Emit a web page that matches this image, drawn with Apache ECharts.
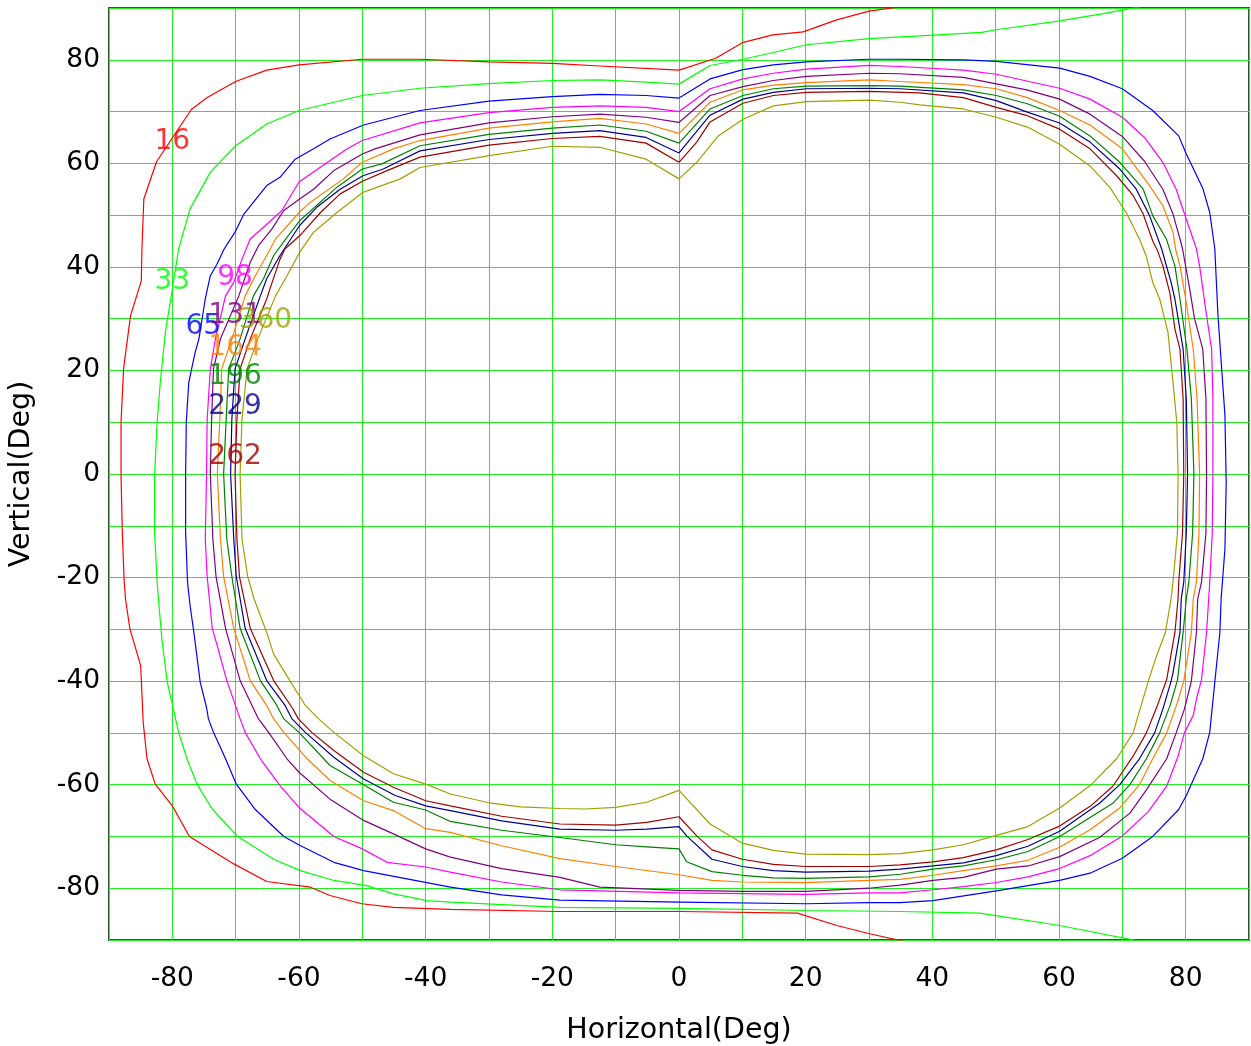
<!DOCTYPE html>
<html><head><meta charset="utf-8">
<script src="https://cdn.jsdelivr.net/npm/echarts@6/dist/echarts.min.js"></script>
<style>html,body{margin:0;padding:0;background:#fff}#c{width:1251px;height:1046px}</style>
</head><body><div id="c"></div>
<script>
// Contour levels
const levels = ['16','33','65','98','131','164','196','229','262','360'];
const colors = ['#ff0000','#00ff00','#0000ff','#ff00ff','#800080','#ff8000','#008000','#000090','#a00000','#a0a000'];

// Contour paths [horizontal deg, vertical deg]
const c16 = [[36,90.4],[30,89.4],[24.9,87.7],[19.6,85.4],[14.8,84.8],[10,83.3],[5.8,80.3],[0,78.0],[-12.5,78.8],[-20,79.3],[-30,79.6],[-40.9,80.1],[-50,80.1],[-60,79.0],[-65.1,78.0],[-70,75.8],[-74.5,72.7],[-77,70.4],[-82.5,60.3],[-84.5,53.1],[-84.8,43.5],[-84.9,37.3],[-86.6,30.6],[-87.7,20.3],[-88.1,10],[-88.1,-0.3],[-87.9,-11.3],[-87.6,-20.9],[-87.4,-24.1],[-86.7,-29.9],[-85.0,-37.0],[-84.6,-48.0],[-84.0,-55.0],[-82.7,-59.9],[-80,-64.1],[-77.3,-70],[-70.3,-75.3],[-65.1,-78.7],[-58.2,-79.8],[-55.1,-81.4],[-50.1,-83.0],[-45.1,-83.7],[-36.1,-84.1],[-18.8,-84.5],[0.2,-84.5],[18.7,-84.8],[24.9,-87.2],[30.1,-88.8],[36,-90.4]];
const c33 = [[73.5,90.4],[67,88.9],[60.1,87.5],[50.1,85.8],[47.8,85.3],[38,84.6],[30,84.1],[20.1,82.9],[14.9,81.4],[10.1,80.1],[4.9,78.9],[0,75.3],[-5.2,75.7],[-12.5,76.1],[-20,76.0],[-30,75.4],[-40.9,74.5],[-50,73.1],[-60,70.2],[-65.1,67.6],[-70,63.4],[-74,58.3],[-77.2,51.2],[-79.0,43.5],[-80,35.7],[-81.1,27.4],[-81.9,17.7],[-82.4,10],[-82.8,-0.3],[-82.8,-11.3],[-82.4,-20.9],[-82.2,-24.1],[-81.6,-32.5],[-80.8,-40.2],[-79.0,-49.9],[-77.7,-55.0],[-76.1,-59.9],[-73.7,-64.7],[-69.8,-69.9],[-64.0,-74.4],[-59.8,-76.6],[-54.5,-78.5],[-49.3,-79.5],[-45.1,-81.1],[-39.8,-82.4],[-36.1,-82.7],[-18.8,-83.7],[0.2,-83.9],[20.1,-84.3],[34.9,-84.5],[47.5,-84.8],[60.1,-87.2],[73,-90.3]];
const c65 = [[0,72.6],[4.9,76.3],[10.1,78.1],[14.9,79.0],[20.1,79.6],[30,80.1],[34.9,80.1],[44.9,80.0],[50.1,79.7],[60.1,78.4],[64.9,76.8],[70,74.4],[74.8,70.2],[78.9,65.3],[80.1,61.8],[82.7,55.2],[83.8,50.5],[84.6,43.5],[85.1,30.6],[86.2,11.3],[86.4,-1.6],[86.2,-14.5],[85.6,-24.1],[85.4,-30.6],[84.6,-40.2],[83.8,-49.9],[82.7,-55.0],[80.1,-62.1],[78.9,-64.8],[74.8,-70.0],[70,-74.2],[64.9,-77.1],[60.1,-78.5],[50.1,-80.5],[40.1,-82.4],[34.9,-82.8],[30,-82.8],[20.1,-83.0],[0.2,-82.7],[-18.8,-82.3],[-28,-81.3],[-36.1,-79.8],[-49.8,-76.6],[-54.5,-75.0],[-59.9,-71.7],[-62.4,-70.0],[-66.9,-64.8],[-69.9,-59.9],[-71.6,-55.0],[-73.5,-49.9],[-74.3,-47.3],[-74.6,-45.1],[-75.6,-40.2],[-76.6,-30.6],[-77.2,-25.4],[-77.6,-20.9],[-77.9,-11.3],[-77.9,-0.3],[-77.8,10],[-77.4,17.7],[-76.4,23.5],[-75.8,26.1],[-74.8,33.8],[-74.0,38.3],[-73.0,40.4],[-71.8,43.5],[-70.1,46.7],[-68.7,50.2],[-65.1,55.7],[-63.0,57.3],[-60.6,60.8],[-57.7,62.8],[-55.1,64.7],[-49.8,67.4],[-40.9,70.2],[-30,72.0],[-20,72.9],[-12.5,73.3],[-5.2,73.1],[0,72.6]];
const c98 = [[0,70.0],[4.9,74.4],[10.1,76.3],[14.9,77.4],[20.1,78.2],[30,78.9],[34.9,78.7],[44.9,78.0],[50.1,77.2],[60.1,74.5],[64.9,72.4],[70,68.9],[73.5,65.0],[76.4,60.2],[78.5,55.0],[80.1,49.2],[81.7,43.5],[82.2,40.2],[83.3,30.6],[84.1,24.1],[84.3,14.5],[84.3,0],[84.2,-11.4],[83.8,-20.9],[83.3,-30.6],[82.5,-39.7],[81.7,-43.5],[81.2,-46.6],[79.8,-50],[78.8,-54.5],[77,-60.3],[74.1,-65.2],[70,-69.9],[65.1,-73.6],[60.1,-76.2],[55.1,-77.8],[50.1,-78.9],[44.9,-79.7],[40.1,-80.3],[34.9,-80.9],[30,-80.9],[20,-81.2],[0,-80.9],[-18.8,-80.3],[-28,-78.8],[-36.1,-76.9],[-40,-75.9],[-46.1,-75.0],[-50,-72.4],[-54.5,-70.0],[-60,-64.4],[-63,-60.2],[-66.1,-55.0],[-68.5,-49.9],[-69.3,-47.3],[-71.4,-39.9],[-72.9,-33.2],[-73.7,-29.8],[-74.5,-19.8],[-74.8,-12.6],[-74.6,0],[-74.5,10.6],[-74.0,20.3],[-73.2,26.1],[-71.6,34.4],[-70.3,37.0],[-69.0,41.5],[-67.7,45.4],[-65.3,48.0],[-62.7,50.9],[-60,56.4],[-52.4,62.8],[-50,64.4],[-40.9,67.8],[-30,69.8],[-20,70.8],[-12.5,71.1],[-5.2,70.8],[0,70.0]];
const c131 = [[0,67.9],[4.9,73.1],[10.1,74.8],[14.9,76.0],[20.1,76.8],[30,77.4],[34.9,77.3],[44.9,76.6],[54.9,74.2],[60.1,72.4],[64.9,69.5],[70,65.2],[73.5,60.4],[76.4,55.0],[78.0,50.2],[79.1,45.4],[79.5,43.5],[80.6,36],[81.4,30],[82.7,24.1],[83.2,14.5],[83.3,0],[83.2,-11.4],[82.5,-20.9],[81.9,-24.1],[81.7,-30.6],[80.9,-40.0],[79.8,-45.4],[78.5,-50],[77.0,-55],[73.8,-61],[71.2,-65.5],[66.4,-70.2],[60.1,-73.9],[55.1,-75.7],[50.1,-76.3],[44.9,-77.9],[40.1,-78.5],[34.9,-79.4],[30,-80.0],[20,-80.6],[10,-80.6],[0,-80.4],[-12.5,-79.8],[-18.8,-77.9],[-28,-76.2],[-36.1,-74.0],[-40,-72.4],[-45.1,-69.5],[-49.8,-66.9],[-55.1,-62.8],[-60,-57.6],[-61.9,-55.0],[-64.8,-49.9],[-66.4,-47.3],[-69.3,-39.9],[-71.6,-29.8],[-73.1,-19.8],[-73.6,-12.6],[-74.0,0],[-73.8,10.6],[-73.5,20.3],[-72.4,26.1],[-69.5,34.4],[-67.7,40.9],[-66.4,44.1],[-64.3,47.3],[-62.4,50.9],[-59.9,53.1],[-57.7,55.0],[-54.5,58.6],[-50,61.8],[-48,62.8],[-40.9,65.5],[-30,67.8],[-20,69.0],[-12.5,69.5],[-5.2,68.9],[0,67.9]];
const c164 = [[0,65.8],[4.9,71.8],[10.1,74.2],[14.9,75.1],[20.1,75.6],[30,76.1],[34.9,75.8],[44.9,75.2],[50.1,74.4],[55,72.7],[60.1,70.2],[64.9,67.4],[70,62.8],[74.3,55.7],[76.4,51.8],[78.0,46.7],[78.4,43.5],[79.1,40.2],[80.0,33.8],[81.2,24.1],[81.8,14.5],[82.2,0],[82.1,-11.4],[81.7,-20.9],[81.2,-24.1],[80.9,-30.6],[79.7,-40],[78.6,-44.5],[77.0,-50],[74.8,-55],[72.7,-60],[69.6,-64.5],[64.9,-68.7],[60.1,-72.1],[55.1,-74.6],[50.1,-75.7],[44.9,-76.6],[40.1,-77.5],[34.9,-78.3],[30,-78.5],[20,-78.9],[10,-78.8],[5.2,-78.5],[0,-77.4],[-10,-75.8],[-18.8,-74.3],[-28,-71.8],[-36.1,-69.2],[-40,-68.5],[-45.1,-65.0],[-49.8,-63.1],[-55.1,-59.2],[-58.7,-55.0],[-62.4,-49.9],[-64.0,-47.3],[-65.1,-44.7],[-67.7,-39.9],[-70.3,-29.8],[-71.9,-19.8],[-72.4,-12.6],[-72.9,0],[-72.5,10.6],[-72.2,20.3],[-70.6,26.1],[-68.5,34.4],[-66.9,38.3],[-65.1,42.2],[-63.7,45.4],[-59.9,50.6],[-58.2,52.5],[-53.0,57.0],[-50,60.2],[-45.1,62.8],[-40.9,64.4],[-30,66.8],[-20,68.0],[-12.5,68.7],[-5.2,67.6],[0,65.8]];
const c196 = [[0,63.9],[4.9,70.5],[10.1,73.1],[14.9,74.4],[20.1,74.9],[30,75.0],[34.9,74.9],[44.9,74.2],[50.1,73.1],[55,71.5],[60.1,69.1],[64.9,65.3],[69.6,60.2],[73.3,55.0],[74.8,49.9],[76.95,45.4],[78.3,40.2],[79.1,33.8],[80.2,24.1],[80.9,14.5],[81.3,0],[81.1,-11.4],[80.5,-20.9],[80.1,-24.1],[79.6,-30.6],[78.7,-39.8],[77.6,-44.5],[75.9,-50],[73.8,-55],[71.2,-60],[68.5,-63.6],[60.1,-70],[55.1,-72.9],[50.1,-74.5],[44.9,-75.7],[40.1,-76.3],[34.9,-77.3],[30,-77.8],[20,-78.1],[14.9,-78.0],[10,-77.5],[5.2,-76.8],[1.2,-74.9],[0,-72.4],[-5.1,-72.0],[-10,-71.6],[-18.8,-70.2],[-28,-68.8],[-36.1,-67.1],[-40,-64.9],[-45.1,-63.4],[-49.8,-60],[-55.1,-56.3],[-60,-49.9],[-62.4,-47.3],[-63.5,-44.7],[-66.1,-39.9],[-69.3,-29.8],[-70.6,-19.8],[-71.4,-12.6],[-71.9,0],[-71.5,10.6],[-71.1,20.3],[-69.3,26.1],[-67.2,34.4],[-65.6,37.7],[-64.0,42.2],[-61.9,45.7],[-59.9,48.9],[-54.0,55.4],[-50,58.9],[-46.9,59.9],[-40.9,63.4],[-30,65.6],[-20,66.8],[-12.5,67.4],[-5.2,66.2],[0,63.9]];
const c229 = [[0,62.0],[4.9,69.3],[10.1,72.4],[14.9,73.7],[20.1,74.4],[30,74.5],[34.9,74.4],[44.9,73.6],[50.1,72.1],[55,69.9],[60.1,67.8],[64.9,64.1],[69.6,58.9],[72.2,55.0],[74.3,49.9],[76.2,43.5],[77.7,37.0],[78.3,33.8],[79.6,24.1],[80.1,14.5],[80.3,0],[80.1,-11.4],[79.7,-20.9],[79.3,-24.1],[79.1,-30.6],[78.0,-38.4],[77.7,-40],[76.4,-45.4],[75.1,-50],[72.7,-55],[69.6,-60],[66.4,-63.6],[60.1,-69],[55.1,-71.9],[50.1,-73.7],[44.9,-75.1],[40.1,-75.7],[34.9,-76.3],[30,-76.7],[20,-76.9],[14.9,-76.6],[10,-75.8],[5.2,-74.4],[1.2,-69.9],[0,-68.1],[-5.1,-68.6],[-10,-68.8],[-18.8,-68.6],[-28,-67.0],[-36.1,-65.0],[-40,-64.1],[-44.8,-62.1],[-49.8,-58.9],[-54.5,-54.7],[-59,-49.9],[-61.1,-47.3],[-62.2,-44.7],[-65.1,-39.9],[-68.5,-29.8],[-69.9,-19.8],[-70.3,-12.6],[-70.8,0],[-70.6,10.6],[-70.1,20.3],[-68.5,26.1],[-66.1,34.4],[-65.1,37.7],[-63.0,42.2],[-59.9,48.0],[-57.2,51.5],[-53.5,55.0],[-49.9,57.6],[-46.7,58.9],[-40.9,62.4],[-30,64.6],[-20,65.8],[-12.5,66.3],[-5.2,65.0],[0,62.0]];
const c262 = [[0,60.2],[2.8,64.1],[4.9,68.0],[10.1,71.6],[14.9,73.1],[20.1,73.7],[30,73.9],[38,73.6],[44.9,72.7],[50.1,70.8],[55,69.2],[60.1,66.6],[64.9,62.8],[69.1,57.6],[71.7,53.8],[73.3,50.2],[74.8,45],[75.6,43],[76.4,40.2],[77.5,35.0],[78.3,28.0],[79.1,24.1],[79.6,14.5],[79.7,0],[79.5,-11.4],[78.9,-20.9],[78.8,-24.1],[78.3,-30.6],[77.0,-39.7],[75.6,-44.5],[73.8,-50],[71.7,-54.5],[68.5,-60.3],[65.1,-64.0],[60.1,-68.0],[55.1,-70.6],[50.1,-72.6],[44.9,-74.1],[40.1,-74.9],[34.9,-75.5],[30,-75.8],[20,-75.8],[14.9,-75.4],[10,-74.4],[5.2,-72.6],[2.8,-69.9],[0,-66.2],[-5.1,-67.3],[-10,-67.8],[-18.8,-67.6],[-28,-66.1],[-36.1,-64.1],[-40,-63.1],[-45.1,-60.5],[-49.8,-57.6],[-54.5,-53.4],[-58,-49.9],[-60.1,-47.3],[-61.1,-45.1],[-64.0,-39.9],[-67.7,-29.8],[-69.4,-19.8],[-69.8,-12.6],[-70.1,0],[-69.8,10.6],[-69.3,20.3],[-67.7,26.1],[-65.1,33.8],[-64.6,35.7],[-63.0,41.5],[-62.2,43.5],[-59.9,46.0],[-56.6,50.5],[-53.5,54.1],[-49.9,56.6],[-46.1,58.6],[-40.9,61.2],[-30,63.5],[-20,64.8],[-12.5,65.2],[-5.2,63.9],[0,60.2]];
const c360 = [[0,57.0],[2.8,60.2],[6.2,65.3],[10.1,68.5],[14.9,71.1],[20.1,71.9],[30,72.2],[34.9,71.8],[38,71.3],[44.9,70.5],[50.1,68.9],[55,67.0],[60.1,63.7],[64.9,59.5],[68,55.4],[70.6,50.5],[72.7,45.4],[73.8,42],[74.8,37.0],[75.9,33.8],[77.2,27.4],[78.0,17.7],[78.6,10],[78.8,0],[78.7,-11.4],[78.0,-20.9],[77.7,-24.1],[76.8,-30.6],[75.3,-35.5],[74.1,-40],[71.7,-50],[69.1,-55],[65.1,-60],[60.1,-64.5],[55.1,-68.1],[50.1,-69.8],[44.9,-71.6],[40.1,-72.6],[34.9,-73.3],[30,-73.5],[20,-73.4],[14.9,-72.7],[10,-71.3],[4.9,-67.6],[0,-61.1],[-5.1,-63.4],[-10,-64.4],[-14.8,-64.7],[-18.8,-64.6],[-25,-64.3],[-30,-63.5],[-36.1,-61.8],[-40,-59.9],[-45.1,-57.9],[-49.8,-54.4],[-54.5,-49.9],[-56.9,-47.3],[-59.0,-44.7],[-61.5,-39.8],[-64.0,-34.8],[-65.1,-30.6],[-67.1,-24.1],[-68.1,-19.8],[-69.0,-12.6],[-69.3,0],[-69.0,10.6],[-68.2,20.3],[-66.5,26.1],[-63.7,34.4],[-61.9,38.3],[-59.9,42.8],[-57.7,46.7],[-54.0,50.5],[-49.9,54.4],[-44.0,57.0],[-40.9,59.2],[-30,61.5],[-20,63.3],[-12.5,63.1],[-5.2,60.8],[0,57.0]];

// Label anchor positions (deg)
const labelX = [-80, -80, -75.1, -70.1, -70.1, -70.1, -70.1, -70.1, -70.1, -65.3];
const labelY = [64.1, 37.1, 28.4, 37.9, 30.5, 24.3, 18.7, 12.9, 3.3, 29.7];

// Axis ticks
const xTicks = [-80, -60, -40, -20, 0, 20, 40, 60, 80];
const yTicks = [-80, -60, -40, -20, 0, 20, 40, 60, 80];

const contours = [c16, c33, c65, c98, c131, c164, c196, c229, c262, c360];
const FONT = 'DejaVu Sans';

const series = contours.map((d, i) => ({
  type: 'line', name: levels[i], data: d, showSymbol: false, symbol: 'none',
  smooth: false, clip: true, silent: true,
  lineStyle: { color: colors[i], width: 1.2 }, z: 3
}));
series.push({
  type: 'scatter', symbolSize: 0, z: 10, silent: true,
  data: levels.map((t, i) => ({
    value: [labelX[i], labelY[i]],
    label: { show: true, position: 'inside', formatter: t, color: colors[i],
             fontSize: 28, fontFamily: FONT }
  }))
});

const chart = echarts.init(document.getElementById('c'), null, { renderer: 'canvas' });
chart.setOption({
  animation: false,
  backgroundColor: '#ffffff',
  grid: { left: 109, right: 2, top: 8, bottom: 106, containLabel: false, outerBoundsMode: 'none',
          show: true, borderColor: '#2a5a2a', borderWidth: 2, backgroundColor: 'transparent' },
  xAxis: {
    type: 'value', min: -90, max: 90, interval: 10,
    name: 'Horizontal(Deg)', nameLocation: 'middle', nameGap: 76,
    nameTextStyle: { fontSize: 28.5, fontFamily: FONT, color: '#000' },
    axisLine: { show: false }, axisTick: { show: false },
    axisLabel: { fontSize: 26.5, fontFamily: FONT, color: '#000', margin: 26,
      formatter: v => xTicks.indexOf(v) >= 0 ? String(v) : '' },
    splitLine: { show: true, lineStyle: { color: '#22ee22', width: 1 } }
  },
  yAxis: {
    type: 'value', min: -90, max: 90, interval: 10,
    name: 'Vertical(Deg)', nameLocation: 'middle', nameGap: 73,
    nameTextStyle: { fontSize: 28.5, fontFamily: FONT, color: '#000' },
    axisLine: { show: false }, axisTick: { show: false },
    axisLabel: { fontSize: 26.5, fontFamily: FONT, color: '#000', margin: 9,
      formatter: v => yTicks.indexOf(v) >= 0 ? String(v) : '' },
    splitLine: { show: true, lineStyle: { color: '#22ee22', width: 1 } }
  },
  series: series
});
</script></body></html>
